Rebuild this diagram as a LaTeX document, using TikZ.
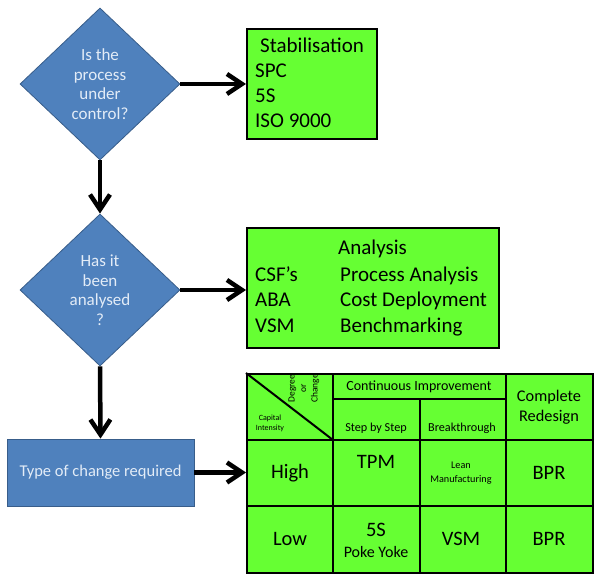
\documentclass[tikz,border=0pt]{standalone}
\usepackage{fontspec}
\setmainfont{Carlito}
\usetikzlibrary{shapes.geometric,arrows.meta,positioning}

\definecolor{boxgreen}{HTML}{66FF33}
\definecolor{decblue}{HTML}{4F81BD}
\definecolor{decedge}{HTML}{385D8A}
\definecolor{dectext}{HTML}{E3ECF7}

\newcommand{\fs}[1]{\fontsize{#1}{1.2\dimexpr#1pt\relax}\selectfont}

\begin{document}
\begin{tikzpicture}[
    x=1pt, y=-1pt,
    every node/.style={inner sep=0pt},
    decision/.style={diamond, draw=decedge, fill=decblue, line width=0.8pt,
        minimum width=160pt, minimum height=152pt, text=dectext,
        align=center, font=\fontsize{17}{19.5}\selectfont},
    process/.style={rectangle, draw=decedge, fill=decblue, line width=0.8pt,
        text=dectext, font=\fs{16.5}},
    greenbox/.style={rectangle, draw=black, fill=boxgreen, line width=2pt},
    grid/.style={line width=2pt},
    flow/.style={line width=4.5pt, -{Straight Barb[length=15pt,width=20pt]}},
    item/.style={anchor=base west, font=\fs{21}},
    cell/.style={align=center},
]
\useasboundingbox (0,0) rectangle (605,585);

% ---- decision column ----
\node[decision] (ctrl) at (100,84) {Is the\\process\\under\\control?};
\node[decision] (anal) at (100,290) {Has it\\been\\analysed\\?};
\node[process, minimum width=187pt, minimum height=67pt] (chg) at (100.5,472.5)
    {Type of change required};

% ---- Stabilisation box ----
\node[greenbox, anchor=north west, minimum width=130pt, minimum height=110pt]
    (stab) at (246,28) {};
\node[item] (stabT) at (260,53) {Stabilisation};
\node[item] (spc)   at (255,78) {SPC};
\node[item] (fives) at (255,103) {5S};
\node[item] (iso)   at (255,128) {ISO 9000};

% ---- Analysis box ----
\node[greenbox, anchor=north west, minimum width=252pt, minimum height=120pt]
    (ana) at (246,227) {};
\node[item] (anaT) at (338,255) {Analysis};
\node[item] (csf)  at (255,282) {CSF’s};
\node[item] (aba)  at (255,307) {ABA};
\node[item] (vsmA) at (255,332) {VSM};
\node[item] (pa)   at (340,282) {Process Analysis};
\node[item] (cd)   at (340,307) {Cost Deployment};
\node[item] (bm)   at (340,332) {Benchmarking};

% ---- table column x-coordinates ----
\def\cA{246}   % left edge
\def\cB{333}   % after corner cell
\def\cC{420}   % step by step | breakthrough
\def\cD{506}   % continuous | complete
\def\cE{592}   % right edge
% ---- table row y-coordinates ----
\def\rA{373}   % top edge
\def\rH{399}   % under Continuous Improvement
\def\rB{440}   % header | High
\def\rC{506}   % High | Low
\def\rD{572}   % bottom edge

\node[greenbox, anchor=north west, minimum width=346pt, minimum height=199pt]
    (tab) at (\cA,\rA) {};
\draw[grid] (\cB,\rA) -- (\cB,\rD);
\draw[grid] (\cC,\rH) -- (\cC,\rD);
\draw[grid] (\cD,\rA) -- (\cD,\rD);
\draw[grid] (\cB,\rH) -- (\cD,\rH);
\draw[grid] (\cA,\rB) -- (\cE,\rB);
\draw[grid] (\cA,\rC) -- (\cE,\rC);
\draw[grid] (tab.north west) -- (\cB,\rB);

% ---- corner cell ----
\node[cell, rotate=90, font=\fontsize{9.5}{11.5}\selectfont, anchor=east]
    (deg) at (304,374) {Degree\\or\\Change};
\node[cell, font=\fontsize{8}{10}\selectfont] (cap) at (270,423) {Capital\\Intensity};

% ---- header cells ----
\node[cell, font=\fs{14}]   (ci)   at (419,387) {Continuous Improvement};
\node[cell, font=\fs{12.2}] (sbs)  at (376,428) {Step by Step};
\node[cell, font=\fs{12.2}] (brk)  at (462,428) {Breakthrough};
\node[cell, font=\fontsize{16.3}{20}\selectfont] (cr) at (549,407) {Complete\\Redesign};

% ---- High row ----
\node[cell, font=\fs{20.5}] (high) at (290,473) {High};
\node[cell, font=\fs{20.5}] (tpm)  at (376,462) {TPM};
\node[cell, font=\fontsize{10.2}{13.5}\selectfont] (lean) at (461,473) {Lean\\Manufacturing};
\node[cell, font=\fs{20.5}] (bprH) at (549,473) {BPR};

% ---- Low row ----
\node[cell, font=\fs{20.5}] (low)  at (290,539) {Low};
\node[cell, font=\fs{20.5}] (fsL)  at (376,530) {5S};
\node[cell, font=\fs{16}]   (poke) at (376,552) {Poke Yoke};
\node[cell, font=\fs{20.5}] (vsmL) at (461,539) {VSM};
\node[cell, font=\fs{20.5}] (bprL) at (549,539) {BPR};

% ---- connectors ----
\draw[flow] (ctrl.east) -- (ctrl.east -| stab.west);
\draw[flow] (ctrl.south) -- (anal.north);
\draw[flow] (anal.east) -- (anal.east -| ana.west);
\draw[flow] (anal.south) -- (chg.north);
\draw[flow] (chg.east) -- (chg.east -| tab.west);

\end{tikzpicture}
\end{document}
